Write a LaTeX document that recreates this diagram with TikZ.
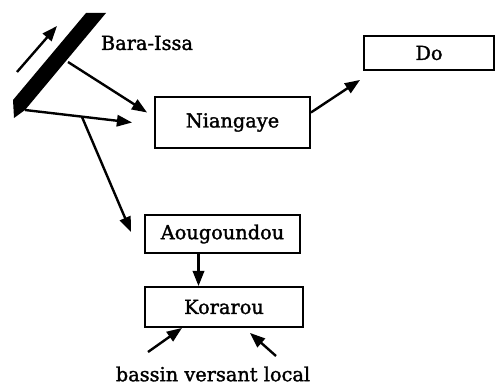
\documentclass[tikz,border=0pt]{standalone}
\usepackage{fontspec}
\setmainfont{DejaVu Serif}[BoldFont=DejaVu Serif,BoldFeatures={FakeBold=1.6}]
\usetikzlibrary{arrows.meta}

\begin{document}
\begin{tikzpicture}[x=0.75pt,y=-0.75pt,
  every node/.style={font=\fontsize{14.5}{17}\selectfont\bfseries},
  box/.style={draw,line width=1.4pt,inner sep=0pt},
  arr/.style={-{Triangle[length=4mm,width=3mm]},line width=1.8pt}]
\useasboundingbox (0,0) rectangle (496,385);
% barrage
\fill (86,13) -- (106,13) -- (25,110) -- (14,118) -- (13,100) -- cycle;
\coordinate (b0) at (17,72);
\coordinate (b1) at (57,26);
\draw[arr] (b0) -- (b1);
\node (bara) at (147,43) {Bara-Issa};
\coordinate (sortie1) at (68,62);
\coordinate (sortie2) at (25,110);
\coordinate (fork) at (82,117);
% stations
\node[box,minimum width=116.25pt,minimum height=38.25pt] (niang) at (232.5,122.5) {Niangaye};
\node[box,minimum width=97.5pt,minimum height=25.5pt] (do) at (429,53) {Do};
\node[box,minimum width=116.25pt,minimum height=28.5pt] (aoug) at (222.5,234) {Aougoundou};
\node[box,minimum width=118.5pt,minimum height=30pt] (kor) at (224,307) {Korarou};
\node (loc) at (213,374) {bassin versant local};
\coordinate (bv1) at (148,352);
\coordinate (bv2) at (276,356);
% fleches
\draw[arr] (sortie1) -- ([shift={(-7,-10)}]niang.west);
\draw[arr] (sortie2) -- ([shift={(-22,0)}]niang.west);
\draw[arr] (fork) -- ([shift={(-13,-2)}]aoug.west);
\draw[arr] ([shift={(0,-10)}]niang.east) -- ([shift={(-3,9)}]do.south west);
\draw[arr] ([shift={(-24,0)}]aoug.south) -- ([shift={(-24,0)}]aoug.south |- kor.north);
\draw[arr] (bv1) -- ([shift={(-42,0)}]kor.south);
\draw[arr] (bv2) -- ([shift={(26,5)}]kor.south);
\end{tikzpicture}
\end{document}
